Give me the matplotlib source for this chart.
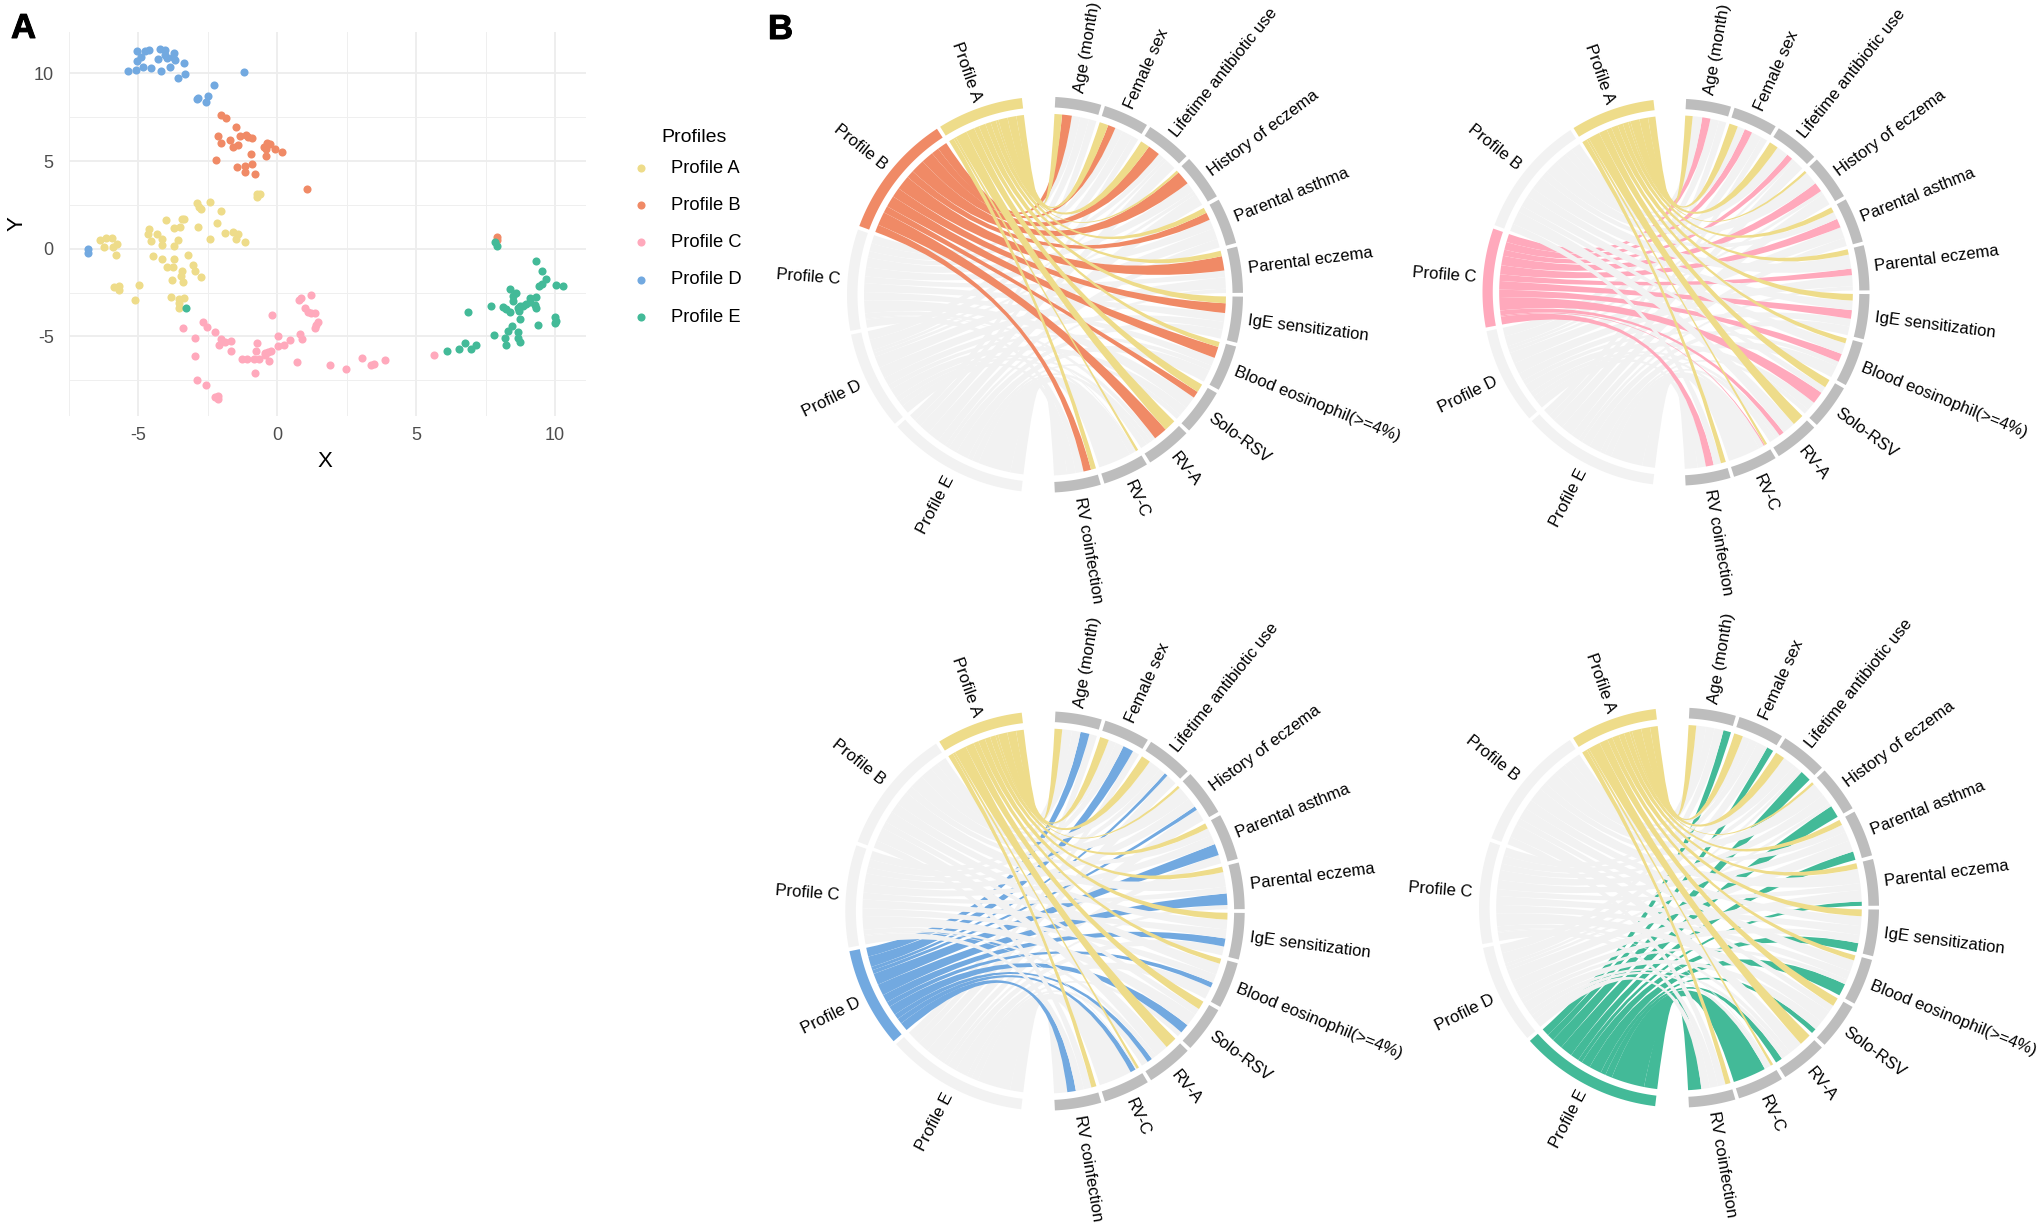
import numpy as np
import matplotlib
matplotlib.use("Agg")
import matplotlib.pyplot as plt
import matplotlib.patheffects as pe
from matplotlib.path import Path
from matplotlib.patches import PathPatch

plt.rcParams['font.family'] = ['Liberation Sans', 'DejaVu Sans']
plt.rcParams['axes.unicode_minus'] = False

W, H = 2040, 1225

# ---------- panel A data ----------
profile_names = ['Profile A', 'Profile B', 'Profile C', 'Profile D', 'Profile E']
profile_colors = ['#EEDC8A', '#F08A66', '#FFA9BC', '#72A9E0', '#43BA98']

ax_ = [-0.73,-0.63,-0.73,-2.43,-2.88,-2.81,-2.74,-2.01,-4.0,-3.42,-3.37,-2.18,-3.72,-3.49,-2.86,-4.62,-4.66,-4.33,-1.88,-1.59,-1.40,-1.47,-2.43,-1.15,-4.14,-4.54,-4.15,-3.56,-3.73,-6.39,-6.18,-5.97,-5.78,-6.23,-5.92,-5.79,-4.49,-4.15,-3.21,-3.73,-3.75,-3.96,-3.04,-2.98,-3.42,-3.47,-2.74,-3.80,-3.40,-4.99,-5.88,-5.71,-5.71,-5.13,-3.84,-3.53,-3.35,-3.54,-3.53]
ay_ = [3.12,3.14,2.97,2.68,2.59,2.36,2.24,2.17,1.65,1.71,1.67,1.44,1.20,1.22,1.24,1.10,0.84,0.84,0.91,0.93,0.82,0.57,0.53,0.38,0.57,0.46,0.21,0.48,0.17,0.48,0.63,0.61,0.29,0.11,0.11,-0.34,-0.42,-0.57,-0.38,-0.61,-1.03,-1.03,-0.93,-1.29,-1.29,-1.56,-1.60,-1.79,-1.88,-2.09,-2.19,-2.13,-2.34,-2.93,-2.74,-2.85,-2.79,-3.12,-3.40]
bx_ = [-2.01,-1.85,-1.47,-2.13,-2.04,-1.71,-1.34,-1.13,-1.05,-0.91,-1.43,-1.59,-0.37,-0.28,-0.47,-0.42,-0.10,0.17,-0.96,-0.40,-2.20,-1.45,-1.17,-0.92,-1.15,-0.80,1.08,7.92,7.92]
by_ = [7.60,7.43,6.94,6.44,6.01,6.20,6.43,6.48,6.39,6.31,5.91,5.80,6.05,5.95,5.82,5.68,5.68,5.51,5.40,5.30,5.06,4.66,4.71,4.83,4.35,4.26,3.38,0.65,0.49]
cx_ = [1.20,0.84,0.77,0.98,1.10,1.20,1.36,-0.19,1.48,1.41,1.36,-2.69,-2.53,-3.40,-2.23,-2.98,0.03,0.82,0.89,0.44,-2.04,-1.87,-1.68,-2.11,-0.72,0.23,0.02,-1.66,-0.75,-0.23,-0.33,-0.44,-0.45,-2.95,-1.26,-1.10,-0.84,-0.65,-0.31,0.70,1.88,2.48,3.04,3.47,3.37,3.86,5.65,-0.79,-2.88,-2.55,-2.15,-2.23,-2.15]
cy_ = [-2.62,-2.79,-2.95,-3.37,-3.59,-3.69,-3.65,-3.76,-4.18,-4.35,-4.54,-4.20,-4.45,-4.52,-4.73,-5.08,-4.98,-4.85,-5.13,-5.21,-5.17,-5.32,-5.25,-5.48,-5.38,-5.48,-5.55,-5.84,-5.84,-5.84,-5.89,-5.97,-6.08,-6.14,-6.29,-6.29,-6.27,-6.31,-6.39,-6.46,-6.65,-6.86,-6.24,-6.58,-6.62,-6.35,-6.08,-7.11,-7.49,-7.78,-8.38,-8.44,-8.57]
dx_ = [-5.06,-4.75,-4.62,-4.22,-4.05,-3.73,-3.75,-3.70,-3.96,-4.28,-4.05,-4.92,-5.04,-5.36,-5.08,-4.85,-4.54,-4.19,-3.87,-3.56,-3.33,-3.35,-2.27,-2.51,-2.88,-2.84,-2.55,-1.20,-6.82,-6.82]
dy_ = [11.29,11.29,11.33,11.37,11.33,11.14,10.95,10.76,10.86,10.84,11.05,10.91,10.70,10.13,10.17,10.34,10.30,10.15,10.38,9.71,9.96,10.57,9.33,8.71,8.52,8.57,8.38,10.08,-0.04,-0.23]
ex_ = [-3.28,7.84,7.91,9.30,9.53,9.67,9.53,9.41,10.05,10.28,8.39,8.60,8.48,8.48,9.30,9.08,7.70,8.12,8.25,8.38,8.66,8.74,8.83,8.69,8.95,9.11,9.27,9.30,6.86,8.74,8.45,8.29,7.80,9.37,10.0,10.03,10.0,8.67,8.18,8.67,8.73,8.22,7.16,6.77,6.96,6.53,6.11]
ey_ = [-3.37,0.40,0.15,-0.72,-1.27,-1.73,-2.03,-2.13,-2.05,-2.13,-2.32,-2.55,-2.68,-2.97,-2.76,-2.79,-3.29,-3.33,-3.44,-3.59,-3.40,-3.27,-3.25,-3.56,-3.16,-3.06,-3.21,-3.40,-3.63,-4.01,-4.39,-4.70,-4.94,-4.35,-3.88,-4.11,-4.22,-4.77,-5.10,-5.11,-5.30,-5.49,-5.48,-5.36,-5.72,-5.70,-5.86]
scatter_x = [ax_, bx_, cx_, dx_, ex_]
scatter_y = [ay_, by_, cy_, dy_, ey_]
major_ticks = [-5, 0, 5, 10]
minor_ticks = [-7.5, -2.5, 2.5, 7.5]

# ---------- panel B data ----------
feature_names = ['Age (month)', 'Female sex', 'Lifetime antibiotic use', 'History of eczema',
                 'Parental asthma', 'Parental eczema', 'IgE sensitization',
                 'Blood eosinophil(>=4%)', 'Solo-RSV', 'RV-A', 'RV-C', 'RV coinfection']
share_a = [.18, .21, .22, .06, .13, .13, .16, .12, .20, .28, .06, .12]
share_b = [.23, .18, .29, .33, .18, .34, .23, .27, .16, .32, .00, .18]
share_c = [.20, .19, .15, .23, .22, .16, .21, .20, .30, .12, .03, .19]
share_d = [.21, .25, .08, .09, .27, .27, .19, .12, .22, .12, .13, .20]
share_e = [.18, .16, .26, .29, .20, .10, .21, .29, .12, .16, .78, .31]
shares = np.array([share_a, share_b, share_c, share_d, share_e])

GREY_LINK = '#F2F2F2'
GREY_FEATURE = '#BDBDBD'
DEG_START = 3.0
BIG_GAP = 9.7
SMALL_GAP = 1.1

fig = plt.figure(figsize=(W / 100, H / 100), dpi=100, facecolor='white')


def px_axes(left, top, right, bottom, **kw):
    return fig.add_axes([left / W, 1 - bottom / H, (right - left) / W, (bottom - top) / H], **kw)


# ---------- panel A ----------
ax = px_axes(69, 32, 586.5, 416)
ax.set_xlim(-7.5, 11.13)
ax.set_ylim(-9.54, 12.36)
for s in ax.spines.values():
    s.set_visible(False)
ax.set_xticks(major_ticks)
ax.set_yticks(major_ticks)
ax.set_xticks(minor_ticks, minor=True)
ax.set_yticks(minor_ticks, minor=True)
ax.grid(True, which='major', color='#EDEDED', lw=1.35)
ax.grid(True, which='minor', color='#EFEFEF', lw=0.7)
ax.set_axisbelow(True)
ax.tick_params(which='both', length=0)
ax.tick_params(axis='x', labelsize=13, labelcolor='#4D4D4D', pad=8)
ax.tick_params(axis='y', labelsize=13, labelcolor='#4D4D4D', pad=11)
ax.set_xlabel('X', fontsize=16, labelpad=5, x=0.494)
ax.set_ylabel('Y', fontsize=16, labelpad=4.5)
for name, col, xs, ys in zip(profile_names, profile_colors, scatter_x, scatter_y):
    ax.scatter(xs, ys, s=34, color=col, linewidths=0, label=name, clip_on=False)
leg = ax.legend(loc='upper left', bbox_to_anchor=(1.07, 0.667), frameon=False,
                fontsize=13.2, labelspacing=1.10, handletextpad=0.65,
                borderaxespad=0, borderpad=0)
fig.text(661 / W, 1 - 137 / H, 'Profiles', fontsize=14, ha='left', va='center')

stroke = [pe.withStroke(linewidth=0.7, foreground='black')]
fig.text(11 / W, 1 - 38 / H, 'A', fontsize=25, fontweight='bold', va='baseline', ha='left',
         path_effects=stroke)
fig.text(768 / W, 1 - 39 / H, 'B', fontsize=25, fontweight='bold', va='baseline', ha='left',
         path_effects=stroke)

# ---------- panel B ----------
R_LINK, R_RING_IN, R_RING_OUT, R_LABEL = 0.914, 0.947, 1.0, 1.035


def polar(t_deg, r):
    t = np.radians(t_deg)
    return np.sin(t) * r, np.cos(t) * r


def arc_points(t0, t1, r, n=30):
    ts = np.linspace(t0, t1, n)
    return list(zip(*polar(ts, r)))


def ring(axc, t0, t1, color):
    outer = arc_points(t0, t1, R_RING_OUT)
    inner = arc_points(t1, t0, R_RING_IN)
    pts = outer + inner + [outer[0]]
    codes = [Path.MOVETO] + [Path.LINETO] * (len(pts) - 2) + [Path.CLOSEPOLY]
    axc.add_patch(PathPatch(Path(pts, codes), fc=color, ec='none', lw=0))


def ribbon(axc, a0, a1, b0, b1, color):
    # ribbon from arc a0-a1 to arc b0-b1, both clockwise, bezier control in the centre
    v = []
    c = []
    arc_a = arc_points(a0, a1, R_LINK, 16)
    arc_b = arc_points(b0, b1, R_LINK, 10)
    v += arc_a
    c += [Path.MOVETO] + [Path.LINETO] * (len(arc_a) - 1)
    v += [(0, 0), arc_b[0]]
    c += [Path.CURVE3, Path.CURVE3]
    v += arc_b[1:]
    c += [Path.LINETO] * (len(arc_b) - 1)
    v += [(0, 0), arc_a[0]]
    c += [Path.CURVE3, Path.CURVE3]
    axc.add_patch(PathPatch(Path(v, c), fc=color, ec='none', lw=0))


def label(axc, t, r, text):
    x, y = polar(t, r)
    phi = 90 - t
    if t < 180:
        rot, ha = phi, 'left'
    else:
        rot, ha = phi + 180, 'right'
    axc.text(x, y, text, rotation=rot, rotation_mode='anchor', ha=ha, va='center',
             fontsize=12, color='black')


def chord_panel(cx, cy, radius, highlight):
    m = 1.6 * radius
    axc = px_axes(cx - m, cy - m, cx + m, cy + m)
    axc.set_xlim(-1.6, 1.6)
    axc.set_ylim(-1.6, 1.6)
    axc.axis('off')
    axc.patch.set_alpha(0)

    totals_f = shares.sum(axis=0)
    totals_p = shares.sum(axis=1)
    n_f, n_p = len(totals_f), len(totals_p)
    scale = (360 - 2 * BIG_GAP - (n_f - 1 + n_p - 1) * SMALL_GAP) / (totals_f.sum() + totals_p.sum())

    # feature sectors run clockwise from the top
    f_start = []
    t = DEG_START
    for w in totals_f:
        f_start.append(t)
        t += w * scale + SMALL_GAP
    t += BIG_GAP - SMALL_GAP
    # profile sectors follow on the left half, drawn here from E (bottom) up to A
    p_start = {}
    for i in range(n_p - 1, -1, -1):
        p_start[i] = t
        t += totals_p[i] * scale + SMALL_GAP

    # position of each link in its feature sector: A first, then B ...
    f_cum = np.cumsum(np.vstack([np.zeros(n_f), shares]), axis=0)

    # painted from E up to A, so A ends on top
    for i in range(n_p - 1, -1, -1):
        col = profile_colors[i] if i in highlight else GREY_LINK
        pos = p_start[i]
        # within a profile sector the last feature is at the anticlockwise end
        for j in range(n_f - 1, -1, -1):
            v = shares[i, j]
            if v <= 0:
                continue
            w = v * scale
            b0 = f_start[j] + f_cum[i, j] * scale
            ribbon(axc, pos, pos + w, b0, b0 + w, col)
            pos += w

    for j, name in enumerate(feature_names):
        t0 = f_start[j]
        t1 = t0 + totals_f[j] * scale
        ring(axc, t0, t1, GREY_FEATURE)
        label(axc, (t0 + t1) / 2, R_LABEL, name)
    for i, name in enumerate(profile_names):
        t0 = p_start[i]
        t1 = t0 + totals_p[i] * scale
        ring(axc, t0, t1, profile_colors[i] if i in highlight else GREY_LINK)
        label(axc, (t0 + t1) / 2, R_LABEL, name)


chord_panel(1045, 294.7, 198, {0, 1})
chord_panel(1676, 292.2, 193.5, {0, 2})
chord_panel(1045, 911, 199.7, {0, 3})
chord_panel(1679, 907.6, 200, {0, 4})

fig.savefig('out.png', dpi=100, facecolor='white')
